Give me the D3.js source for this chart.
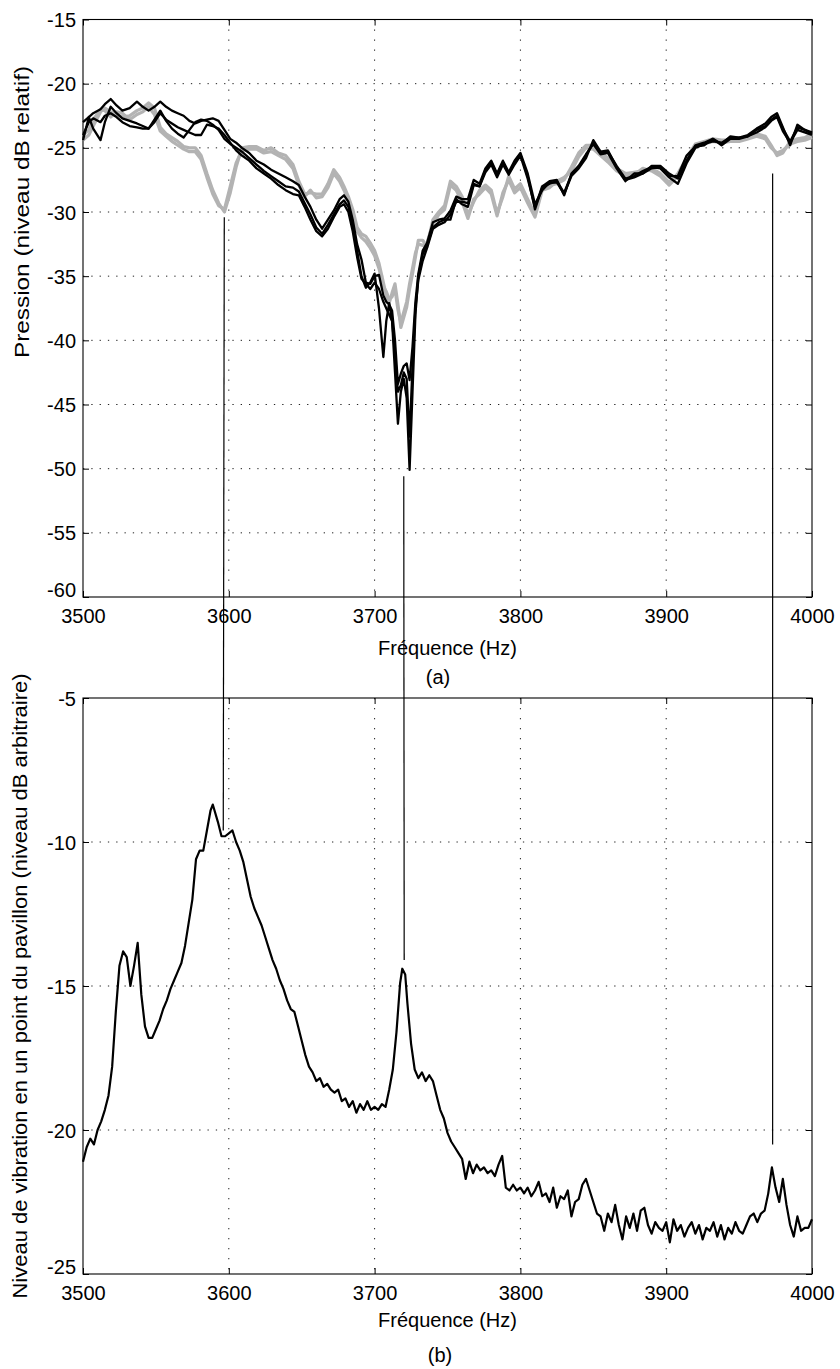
<!DOCTYPE html>
<html><head><meta charset="utf-8">
<script src="https://cdn.jsdelivr.net/npm/d3@7"></script>
<style>
html,body{margin:0;padding:0;background:#fff;}
svg{display:block;}
text{font-family:"Liberation Sans",Arial,sans-serif;fill:#000;}
</style></head>
<body><svg id="chart" width="840" height="1369"></svg>
<script>
// ---------- DATA ----------
const topFreq = [3500,3504,3507,3512,3515,3519,3523,3527,3532,3537,
3541,3545,3549,3553,3557,3561,3565,3569,3573,3577,
3581,3585,3589,3593,3597,3601,3605,3609,3614,3619,
3624,3629,3634,3639,3644,3648,3652,3656,3660,3664,
3668,3672,3676,3679,3682,3685,3688,3691,3694,3697,
3700,3703,3706,3708,3710,3712,3714,3716,3718,3720,
3722,3724,3726,3728,3730,3733,3736,3740,3744,3748,
3752,3756,3760,3764,3768,3772,3776,3780,3784,3788,
3792,3796,3800,3805,3810,3815,3820,3825,3830,3835,
3840,3845,3850,3855,3860,3866,3872,3878,3884,3890,
3896,3902,3908,3914,3920,3926,3932,3938,3944,3950,
3956,3962,3968,3972,3976,3980,3985,3990,3995,4000];

const black1 = [-23.0,-22.6,-22.3,-22.0,-21.6,-21.2,-21.7,-22.1,-21.9,-21.4,
-21.8,-22.1,-21.8,-21.4,-21.8,-22.1,-22.3,-22.5,-22.9,-23.1,
-22.9,-22.8,-22.7,-22.9,-23.6,-24.3,-24.6,-25.0,-25.4,-26.0,
-26.3,-26.7,-27.0,-27.3,-27.6,-27.9,-28.8,-29.6,-30.6,-31.3,
-30.6,-29.9,-29.0,-28.7,-29.2,-30.6,-32.5,-33.7,-35.5,-35.6,
-35.0,-34.9,-36.5,-37.0,-37.2,-37.7,-40.0,-43.4,-42.6,-42.0,
-41.8,-43.1,-40.5,-37.0,-34.8,-33.0,-32.4,-30.8,-30.6,-30.5,
-29.9,-28.8,-29.0,-29.0,-27.5,-27.8,-26.6,-26.0,-27.0,-26.0,
-26.9,-26.0,-25.4,-27.0,-29.4,-28.3,-27.7,-27.7,-28.6,-27.2,
-26.6,-25.8,-24.4,-25.3,-25.2,-26.5,-27.5,-27.3,-27.0,-26.4,
-26.4,-27.0,-27.4,-26.0,-24.8,-24.6,-24.3,-24.7,-24.1,-24.2,
-24.0,-23.5,-23.1,-22.6,-22.3,-23.4,-24.8,-23.2,-23.6,-23.8];

const black2 = [-24.4,-22.6,-23.5,-24.4,-23.0,-21.8,-22.3,-22.7,-22.9,-23.1,
-23.3,-23.5,-22.8,-22.1,-22.9,-23.5,-23.9,-24.2,-23.6,-23.0,
-22.8,-22.9,-23.2,-23.6,-24.3,-24.7,-25.0,-25.3,-25.8,-26.3,
-26.8,-27.2,-27.6,-28.0,-28.1,-28.4,-29.3,-30.2,-31.2,-31.7,
-31.0,-30.2,-29.4,-29.1,-29.6,-31.0,-33.0,-35.0,-35.9,-35.5,
-34.8,-37.5,-41.3,-38.5,-37.1,-38.5,-42.5,-46.5,-44.0,-43.0,
-44.5,-50.1,-44.0,-38.0,-35.0,-33.3,-32.6,-31.2,-30.8,-30.6,
-30.6,-29.0,-29.4,-29.6,-27.9,-28.0,-26.9,-26.3,-27.3,-26.3,
-27.1,-26.3,-25.6,-27.4,-29.6,-28.0,-27.6,-27.5,-28.7,-27.0,
-26.4,-25.5,-24.7,-25.5,-25.4,-26.6,-27.6,-27.0,-27.0,-26.6,
-26.5,-27.2,-27.2,-25.6,-24.9,-24.8,-24.3,-24.8,-24.3,-24.3,
-24.1,-23.8,-23.4,-22.9,-22.6,-23.7,-24.6,-23.6,-23.8,-24.0];

const black3 = [-24.0,-23.0,-22.7,-23.0,-22.5,-22.3,-22.6,-23.0,-23.3,-23.4,
-23.5,-23.5,-23.0,-22.3,-22.8,-23.1,-23.4,-23.6,-23.8,-24.0,
-24.0,-23.2,-23.3,-23.5,-24.0,-24.6,-25.2,-25.6,-26.0,-26.6,
-27.0,-27.4,-27.9,-28.3,-28.6,-28.7,-29.6,-30.6,-31.5,-31.9,
-31.3,-30.4,-29.6,-29.4,-30.0,-31.5,-33.5,-35.2,-35.6,-36.0,
-35.5,-36.0,-37.0,-37.5,-38.0,-38.5,-41.0,-44.0,-43.5,-42.5,
-43.0,-47.5,-42.0,-37.5,-35.3,-33.8,-32.8,-31.3,-31.0,-30.8,
-30.2,-29.2,-29.2,-29.3,-27.8,-28.0,-26.7,-26.1,-27.1,-26.1,
-27.0,-26.1,-25.5,-27.2,-29.8,-28.1,-27.8,-27.6,-28.5,-27.1,
-26.5,-25.6,-24.6,-25.4,-25.3,-26.4,-27.4,-27.2,-26.8,-26.5,
-26.6,-27.3,-27.8,-26.2,-25.0,-24.7,-24.5,-24.6,-24.2,-24.2,
-24.1,-23.6,-23.3,-22.8,-22.5,-23.5,-24.5,-23.4,-23.6,-23.9];

const gray1 = [-24.4,-24.0,-23.3,-22.2,-21.9,-22.2,-22.4,-22.6,-22.5,-22.1,
-21.9,-21.5,-21.9,-23.4,-23.9,-24.2,-24.5,-24.9,-25.0,-25.0,
-25.6,-27.0,-28.3,-29.3,-30.0,-28.5,-26.5,-25.0,-24.9,-24.9,
-25.2,-25.0,-25.4,-25.6,-26.3,-27.6,-28.6,-28.5,-28.6,-28.6,
-27.8,-26.7,-27.3,-28.0,-28.8,-29.8,-31.2,-31.7,-31.9,-32.4,
-33.0,-34.0,-35.5,-36.5,-37.1,-36.3,-35.6,-37.2,-39.0,-38.2,
-37.4,-36.0,-34.8,-33.5,-32.2,-32.2,-32.7,-30.6,-30.0,-29.5,
-27.6,-28.0,-28.8,-30.2,-29.2,-28.3,-27.9,-28.3,-30.1,-28.8,
-27.2,-28.2,-27.8,-29.0,-30.2,-28.0,-27.9,-27.8,-27.5,-26.5,
-25.4,-24.8,-24.8,-25.3,-25.8,-26.6,-27.0,-26.9,-26.8,-26.6,
-27.0,-27.7,-27.0,-25.8,-24.7,-24.5,-24.3,-24.4,-24.4,-24.3,
-24.1,-23.9,-24.1,-24.8,-25.6,-25.4,-24.5,-24.3,-24.2,-23.9];

const gray2 = [-24.0,-23.6,-22.8,-22.0,-22.1,-22.6,-22.2,-22.3,-22.8,-22.4,
-22.2,-21.8,-22.4,-23.7,-24.1,-24.5,-24.8,-25.1,-25.3,-25.3,
-25.9,-27.3,-28.6,-29.5,-29.8,-28.0,-26.2,-25.2,-25.1,-25.1,
-25.4,-25.3,-25.6,-25.9,-26.6,-27.9,-28.8,-28.3,-28.9,-28.8,
-28.1,-27.0,-27.6,-28.3,-29.1,-30.2,-31.5,-32.0,-32.3,-32.8,
-33.4,-34.4,-35.8,-36.2,-36.8,-36.6,-36.0,-37.6,-38.6,-37.8,
-37.0,-35.6,-34.4,-33.2,-32.5,-32.6,-32.4,-30.9,-30.2,-29.8,
-27.9,-28.3,-29.2,-30.5,-29.0,-28.6,-28.1,-28.6,-30.3,-28.5,
-27.5,-28.5,-28.1,-29.3,-30.4,-28.3,-28.1,-27.6,-27.3,-26.8,
-25.7,-25.0,-25.1,-25.6,-26.1,-26.8,-27.2,-27.1,-26.6,-26.8,
-27.2,-27.9,-27.2,-26.0,-24.9,-24.7,-24.5,-24.6,-24.5,-24.5,
-24.3,-24.1,-24.3,-25.0,-25.4,-25.2,-24.7,-24.5,-24.4,-24.2];

const botFreq = [3500,3502.5,3505,3507.5,3510,3512.5,3515,3517.5,3520,3522.5,
3525,3527.5,3530,3532.5,3535,3537.5,3540,3542.5,3545,3547.5,
3550,3552.5,3555,3557.5,3560,3562.5,3565,3567.5,3570,3572.5,
3575,3577.5,3580,3582.5,3585,3587.5,3589,3592.5,3595,3597.5,
3600,3602.5,3605,3607.5,3610,3612.5,3615,3617.5,3620,3622.5,
3625,3627.5,3630,3632.5,3635,3637.5,3640,3642.5,3645,3647.5,
3650,3652.5,3655,3657.5,3660,3662.5,3665,3667.5,3670,3672.5,
3675,3677.5,3680,3682.5,3685,3687.5,3690,3692.5,3695,3697.5,
3700,3702.5,3705,3707.5,3710,3712.5,3715,3717.5,3719,3721,
3722.5,3725,3727.5,3730,3732.5,3735,3737.5,3740,3742.5,3745,
3747.5,3750,3752.5,3755,3757.5,3760,3762.5,3765,3767.5,3770,
3772.5,3775,3777.5,3780,3782.5,3785,3787.5,3790,3792.5,3795,
3797.5,3800,3802.5,3805,3807.5,3810,3812.5,3815,3817.5,3820,
3822.5,3825,3827.5,3830,3832.5,3835,3837.5,3840,3842.5,3845,
3847.5,3850,3852.5,3855,3857.5,3860,3862.5,3865,3867.5,3870,
3872.5,3875,3877.5,3880,3882.5,3885,3887.5,3890,3892.5,3895,
3897.5,3900,3902.5,3905,3907.5,3910,3912.5,3915,3917.5,3920,
3922.5,3925,3927.5,3930,3932.5,3935,3937.5,3940,3942.5,3945,
3947.5,3950,3952.5,3955,3957.5,3960,3962.5,3965,3967.5,3970,
3972.5,3975,3977.5,3980,3982.5,3985,3987.5,3990,3992.5,3995,
3997.5,4000];

const vibration = [-21.1,-20.6,-20.3,-20.5,-20.0,-19.7,-19.3,-18.8,-17.8,-15.9,
-14.3,-13.8,-14.0,-15.0,-14.3,-13.5,-15.3,-16.4,-16.8,-16.8,
-16.5,-16.2,-15.8,-15.5,-15.1,-14.8,-14.5,-14.2,-13.6,-12.8,
-12.0,-10.6,-10.3,-10.3,-9.6,-8.9,-8.7,-9.3,-9.8,-9.8,
-9.7,-9.6,-10.0,-10.3,-10.7,-11.3,-11.9,-12.3,-12.6,-12.9,
-13.3,-13.7,-14.1,-14.4,-14.8,-15.1,-15.5,-15.8,-15.9,-16.4,
-16.9,-17.4,-17.8,-18.0,-18.3,-18.2,-18.5,-18.4,-18.6,-18.7,
-18.6,-19.0,-18.9,-19.2,-19.0,-19.4,-19.1,-19.3,-19.0,-19.3,
-19.2,-19.3,-19.1,-19.2,-18.6,-17.9,-16.6,-14.9,-14.4,-14.6,
-15.6,-17.0,-17.9,-18.2,-18.0,-18.3,-18.1,-18.3,-18.8,-19.3,
-19.6,-20.1,-20.4,-20.6,-20.8,-21.0,-21.7,-21.1,-21.5,-21.2,
-21.4,-21.3,-21.5,-21.4,-21.6,-21.2,-20.9,-22.0,-22.1,-21.9,
-22.1,-22.0,-22.2,-22.0,-22.3,-22.1,-21.8,-22.3,-22.2,-22.5,
-22.0,-22.7,-22.3,-22.4,-22.1,-23.0,-22.5,-22.4,-21.9,-21.7,
-22.1,-22.5,-22.9,-23.0,-23.5,-22.9,-23.2,-22.6,-23.3,-23.8,
-23.0,-23.4,-22.9,-23.5,-22.8,-22.7,-23.3,-23.6,-23.2,-23.4,
-23.5,-23.2,-23.9,-23.1,-23.5,-23.3,-23.7,-23.4,-23.2,-23.6,
-23.3,-23.8,-23.4,-23.5,-23.2,-23.7,-23.3,-23.8,-23.4,-23.6,
-23.2,-23.5,-23.6,-23.3,-23.0,-22.9,-23.2,-22.9,-22.8,-22.2,
-21.3,-22.0,-22.5,-21.7,-22.6,-23.3,-23.7,-23.0,-23.5,-23.4,
-23.4,-23.1];

const xTicks = [3500,3600,3700,3800,3900,4000];
const yTicksTop = [-60,-55,-50,-45,-40,-35,-30,-25,-20,-15];
const yTicksBot = [-25,-20,-15,-10,-5];

// connector lines: (freq, value) at top plot -> (freq, value) at bottom plot
const connTopFreq = [3596.9, 3720.0, 3973.0];
const connTopVal  = [-30.4, -50.6, -27.0];
const connBotFreq = [3596.2, 3720.3, 3973.0];
const connBotVal  = [-9.6, -14.1, -20.5];

// ---------- DRAW ----------
const svg = d3.select("#chart");
const L = 83, R = 812;
const x = d3.scaleLinear().domain([3500,4000]).range([L,R]);
const yT = d3.scaleLinear().domain([-60,-15]).range([597,19.5]);
const yB = d3.scaleLinear().domain([-25,-5]).range([1274,698]);

function panel(y, yTicks, top, bottom) {
  const g = svg.append("g");
  g.selectAll(".hg").data(yTicks.slice(1,-1)).enter().append("line")
    .attr("x1",L).attr("x2",R).attr("y1",d=>y(d)).attr("y2",d=>y(d))
    .attr("stroke","#222").attr("stroke-width",1).attr("stroke-dasharray","1.3,7");
  g.selectAll(".vg").data(xTicks.slice(1,-1)).enter().append("line")
    .attr("y1",top).attr("y2",bottom).attr("x1",d=>x(d)).attr("x2",d=>x(d))
    .attr("stroke","#222").attr("stroke-width",1).attr("stroke-dasharray","1.3,8.7");
  const ax = g.append("g").attr("transform",`translate(0,${bottom})`)
    .call(d3.axisBottom(x).tickValues(xTicks).tickSize(-6).tickPadding(12).tickFormat(d=>String(d)));
  const ay = g.append("g").attr("transform",`translate(${L},0)`)
    .call(d3.axisLeft(y).tickValues(yTicks).tickSize(-6).tickPadding(7).tickFormat(d=>String(d)));
  g.append("g").attr("transform",`translate(0,${top})`)
    .call(d3.axisTop(x).tickValues(xTicks).tickSize(-6).tickFormat(""));
  g.append("g").attr("transform",`translate(${R},0)`)
    .call(d3.axisRight(y).tickValues(yTicks).tickSize(-6).tickFormat(""));
  g.selectAll(".domain").remove();
  g.selectAll(".tick line").attr("stroke","#000").attr("stroke-width",1);
  g.selectAll(".tick text").style("font-size","20px").attr("fill","#000");
  ay.selectAll(".tick text").attr("dy",d=> d===yTicks[0] ? "-0.05em" : "0.35em");
  ax.selectAll(".tick text").attr("dy","0.72em");
  g.append("rect").attr("x",L).attr("y",top).attr("width",R-L).attr("height",bottom-top)
    .attr("fill","none").attr("stroke","#000").attr("stroke-width",1.1);
  return g;
}

const gTop = panel(yT, yTicksTop, yT(-15), yT(-60));
const gBot = panel(yB, yTicksBot, yB(-5), yB(-25));

const lineTop = d3.line().x((d,i)=>x(topFreq[i])).y(d=>yT(d));
[gray2, gray1].forEach(s=>{
  gTop.append("path").attr("d",lineTop(s)).attr("fill","none")
    .attr("stroke","#b3b3b3").attr("stroke-width",3.2).attr("stroke-linejoin","round");
});
[black3, black2, black1].forEach(s=>{
  gTop.append("path").attr("d",lineTop(s)).attr("fill","none")
    .attr("stroke","#000").attr("stroke-width",2.3).attr("stroke-linejoin","round");
});

const lineBot = d3.line().x((d,i)=>x(botFreq[i])).y(d=>yB(d));
gBot.append("path").attr("d",lineBot(vibration)).attr("fill","none")
  .attr("stroke","#000").attr("stroke-width",2.2).attr("stroke-linejoin","round");

connTopFreq.forEach((f,i)=>{
  svg.append("line")
    .attr("x1",x(f)).attr("y1",yT(connTopVal[i]))
    .attr("x2",x(connBotFreq[i])).attr("y2",yB(connBotVal[i]))
    .attr("stroke","#000").attr("stroke-width",1.2);
});

const cx = (L+R)/2;
svg.append("text").attr("x",cx).attr("y",648).attr("text-anchor","middle").attr("dy","0.35em")
  .style("font-size","20px").text("Fréquence (Hz)");
svg.append("text").attr("x",438).attr("y",677).attr("text-anchor","middle").attr("dy","0.35em")
  .style("font-size","20px").text("(a)");
svg.append("text").attr("x",cx).attr("y",1320).attr("text-anchor","middle").attr("dy","0.35em")
  .style("font-size","20px").text("Fréquence (Hz)");
svg.append("text").attr("x",440).attr("y",1355).attr("text-anchor","middle").attr("dy","0.35em")
  .style("font-size","20px").text("(b)");

svg.append("text").attr("transform","translate(22,212) rotate(-90)")
  .attr("text-anchor","middle").attr("dy","0.35em").style("font-size","20px")
  .attr("textLength",292).attr("lengthAdjust","spacingAndGlyphs")
  .text("Pression (niveau dB relatif)");
svg.append("text").attr("transform",`translate(20,${(yB(-5)+yB(-25))/2}) rotate(-90)`)
  .attr("text-anchor","middle").attr("dy","0.35em").style("font-size","20px")
  .attr("textLength",625).attr("lengthAdjust","spacingAndGlyphs")
  .text("Niveau de vibration en un point du pavillon (niveau dB arbitraire)");
</script></body></html>
